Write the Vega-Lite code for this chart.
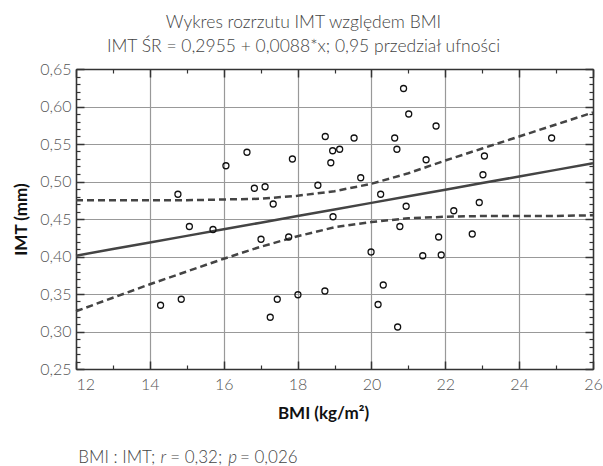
{
  "$schema": "https://vega.github.io/schema/vega-lite/v6.json",
  "width": 517,
  "height": 300,
  "autosize": {"type": "none"},
  "padding": {"left": 76, "top": 69, "right": 10, "bottom": 97},
  "background": "white",
  "title": {
    "text": ["Wykres rozrzutu IMT względem BMI", "IMT ŚR = 0,2955 + 0,0088*x; 0,95 przedział ufności"],
    "font": "Lato", "fontSize": 17.5, "fontWeight": 300, "color": "#444",
    "lineHeight": 24, "offset": 6, "dx": -31
  },
  "config": {
    "view": {"stroke": null},
    "axis": {"labelFont": "Lato", "titleFont": "Lato", "labelColor": "#555", "labelFontSize": 16, "labelFontWeight": 300}
  },
  "datasets": {
    "pts": [
      {"bmi": 14.29, "imt": 0.335}, {"bmi": 14.76, "imt": 0.483}, {"bmi": 14.85, "imt": 0.343},
      {"bmi": 15.07, "imt": 0.440}, {"bmi": 15.71, "imt": 0.436}, {"bmi": 16.06, "imt": 0.521},
      {"bmi": 16.63, "imt": 0.539}, {"bmi": 16.83, "imt": 0.491}, {"bmi": 17.01, "imt": 0.423},
      {"bmi": 17.12, "imt": 0.493}, {"bmi": 17.26, "imt": 0.319}, {"bmi": 17.34, "imt": 0.470},
      {"bmi": 17.45, "imt": 0.343}, {"bmi": 17.76, "imt": 0.426}, {"bmi": 17.86, "imt": 0.530},
      {"bmi": 18.01, "imt": 0.349}, {"bmi": 18.55, "imt": 0.495}, {"bmi": 18.74, "imt": 0.354},
      {"bmi": 18.75, "imt": 0.560}, {"bmi": 18.90, "imt": 0.525}, {"bmi": 18.95, "imt": 0.541},
      {"bmi": 18.96, "imt": 0.453}, {"bmi": 19.14, "imt": 0.543}, {"bmi": 19.53, "imt": 0.558},
      {"bmi": 19.71, "imt": 0.505}, {"bmi": 19.99, "imt": 0.406}, {"bmi": 20.18, "imt": 0.336},
      {"bmi": 20.25, "imt": 0.483}, {"bmi": 20.32, "imt": 0.362}, {"bmi": 20.63, "imt": 0.558},
      {"bmi": 20.69, "imt": 0.543}, {"bmi": 20.71, "imt": 0.306}, {"bmi": 20.77, "imt": 0.440},
      {"bmi": 20.87, "imt": 0.624}, {"bmi": 20.94, "imt": 0.467}, {"bmi": 21.01, "imt": 0.590},
      {"bmi": 21.39, "imt": 0.401}, {"bmi": 21.48, "imt": 0.529}, {"bmi": 21.75, "imt": 0.574},
      {"bmi": 21.82, "imt": 0.426}, {"bmi": 21.89, "imt": 0.402}, {"bmi": 22.23, "imt": 0.461},
      {"bmi": 22.73, "imt": 0.430}, {"bmi": 22.92, "imt": 0.472}, {"bmi": 23.02, "imt": 0.509},
      {"bmi": 23.06, "imt": 0.534}, {"bmi": 24.88, "imt": 0.558}
    ],
    "fit": [
      {"bmi": 12, "lo": 0.327, "fit": 0.4011, "hi": 0.475},
      {"bmi": 13, "lo": 0.345, "fit": 0.4099, "hi": 0.475},
      {"bmi": 14, "lo": 0.363, "fit": 0.4187, "hi": 0.475},
      {"bmi": 15, "lo": 0.380, "fit": 0.4275, "hi": 0.475},
      {"bmi": 16, "lo": 0.397, "fit": 0.4363, "hi": 0.476},
      {"bmi": 17, "lo": 0.413, "fit": 0.4451, "hi": 0.477},
      {"bmi": 18, "lo": 0.427, "fit": 0.4539, "hi": 0.481},
      {"bmi": 19, "lo": 0.439, "fit": 0.4627, "hi": 0.487},
      {"bmi": 20, "lo": 0.446, "fit": 0.4715, "hi": 0.497},
      {"bmi": 21, "lo": 0.451, "fit": 0.4803, "hi": 0.511},
      {"bmi": 22, "lo": 0.453, "fit": 0.4891, "hi": 0.528},
      {"bmi": 23, "lo": 0.454, "fit": 0.4979, "hi": 0.544},
      {"bmi": 24, "lo": 0.454, "fit": 0.5067, "hi": 0.560},
      {"bmi": 25, "lo": 0.454, "fit": 0.5155, "hi": 0.576},
      {"bmi": 26, "lo": 0.455, "fit": 0.5243, "hi": 0.592}
    ],
    "note": [
      {"bmi": 12.062, "imt": 0.125, "t": "BMI : IMT;", "style": "n"},
      {"bmi": 14.29, "imt": 0.125, "t": "r", "style": "i"},
      {"bmi": 14.55, "imt": 0.125, "t": "= 0,32;", "style": "n"},
      {"bmi": 16.12, "imt": 0.125, "t": "p", "style": "i"},
      {"bmi": 16.44, "imt": 0.125, "t": "= 0,026", "style": "n"}
    ]
  },
  "resolve": {"axis": {"x": "independent", "y": "independent"}},
  "layer": [
    {
      "data": {"name": "fit"},
      "mark": {"type": "line", "color": "#444", "strokeWidth": 2.5, "strokeDash": [7, 4]},
      "encoding": {
        "x": {"field": "bmi", "type": "quantitative", "scale": {"domain": [12, 26], "nice": false, "zero": false},
          "axis": {"orient": "top", "values": [12, 14, 16, 18, 20, 22, 24, 26], "labels": false, "grid": false, "title": null,
            "tickSize": -8, "tickColor": "#333", "tickWidth": 1.5, "domainColor": "#333", "domainWidth": 1.5}},
        "y": {"field": "hi", "type": "quantitative", "scale": {"domain": [0.25, 0.65], "nice": false, "zero": false},
          "axis": {"orient": "right", "values": [0.25, 0.3, 0.35, 0.4, 0.45, 0.5, 0.55, 0.6, 0.65], "labels": false, "grid": false, "title": null,
            "tickSize": -8, "tickColor": "#333", "tickWidth": 1.5, "domainColor": "#333", "domainWidth": 1.5}}
      }
    },
    {
      "data": {"name": "fit"},
      "mark": {"type": "line", "color": "#444", "strokeWidth": 2.5, "strokeDash": [7, 4]},
      "encoding": {
        "x": {"field": "bmi", "type": "quantitative", "scale": {"domain": [12, 26], "nice": false, "zero": false},
          "axis": {"orient": "bottom", "values": [13, 15, 17, 19, 21, 23, 25], "labels": false, "grid": false, "title": null, "domain": false,
            "tickSize": -4, "tickColor": "#333", "tickWidth": 1.2}},
        "y": {"field": "lo", "type": "quantitative", "scale": {"domain": [0.25, 0.65], "nice": false, "zero": false},
          "axis": {"orient": "left", "values": [0.26, 0.27, 0.28, 0.29, 0.31, 0.32, 0.33, 0.34, 0.36, 0.37, 0.38, 0.39, 0.41, 0.42, 0.43, 0.44, 0.46, 0.47, 0.48, 0.49, 0.51, 0.52, 0.53, 0.54, 0.56, 0.57, 0.58, 0.59, 0.61, 0.62, 0.63, 0.64],
            "labels": false, "grid": false, "title": null, "domain": false, "tickSize": -4, "tickColor": "#333", "tickWidth": 1.2}}
      }
    },
    {
      "data": {"name": "fit"},
      "mark": {"type": "line", "color": "#444", "strokeWidth": 2.5},
      "encoding": {
        "x": {"field": "bmi", "type": "quantitative", "scale": {"domain": [12, 26], "nice": false, "zero": false},
          "axis": {"orient": "top", "values": [13, 15, 17, 19, 21, 23, 25], "labels": false, "grid": false, "title": null, "domain": false,
            "tickSize": -4, "tickColor": "#333", "tickWidth": 1.2}},
        "y": {"field": "fit", "type": "quantitative", "scale": {"domain": [0.25, 0.65], "nice": false, "zero": false},
          "axis": {"orient": "right", "values": [0.26, 0.27, 0.28, 0.29, 0.31, 0.32, 0.33, 0.34, 0.36, 0.37, 0.38, 0.39, 0.41, 0.42, 0.43, 0.44, 0.46, 0.47, 0.48, 0.49, 0.51, 0.52, 0.53, 0.54, 0.56, 0.57, 0.58, 0.59, 0.61, 0.62, 0.63, 0.64],
            "labels": false, "grid": false, "title": null, "domain": false, "tickSize": -4, "tickColor": "#333", "tickWidth": 1.2}}
      }
    },
    {
      "data": {"name": "pts"},
      "mark": {"type": "point", "shape": "circle", "filled": false, "color": "#111", "size": 36, "strokeWidth": 1.3, "opacity": 1},
      "encoding": {
        "x": {"field": "bmi", "type": "quantitative", "scale": {"domain": [12, 26], "nice": false, "zero": false},
          "axis": {"orient": "bottom", "values": [12, 14, 16, 18, 20, 22, 24, 26], "grid": true, "gridColor": "#999", "gridWidth": 1.2,
            "tickSize": -8, "tickColor": "#333", "tickWidth": 1.5, "domainColor": "#333", "domainWidth": 1.5,
            "labelPadding": 15,
            "labelAlign": {"condition": {"test": "datum.value == 12", "value": "left"}, "value": "center"},
            "title": "BMI (kg/m²)", "titleFontSize": 17, "titleFontWeight": "bold", "titleColor": "#111", "titlePadding": 13, "titleX": 247}},
        "y": {"field": "imt", "type": "quantitative", "scale": {"domain": [0.25, 0.65], "nice": false, "zero": false},
          "axis": {"orient": "left", "values": [0.25, 0.3, 0.35, 0.4, 0.45, 0.5, 0.55, 0.6, 0.65], "grid": true, "gridColor": "#999", "gridWidth": 1.2,
            "tickSize": -8, "tickColor": "#333", "tickWidth": 1.5, "domainColor": "#333", "domainWidth": 1.5,
            "labelPadding": 13,
            "labelExpr": "replace(format(datum.value, '.2f'), '.', ',')",
            "title": "IMT (mm)", "titleFontSize": 17, "titleFontWeight": "bold", "titleColor": "#111", "titlePadding": 9}}
      }
    },
    {
      "data": {"name": "note"},
      "transform": [{"filter": "datum.style == 'n'"}],
      "mark": {"type": "text", "align": "left", "baseline": "alphabetic", "font": "Lato", "fontSize": 17, "fontWeight": 300, "color": "#444"},
      "encoding": {
        "x": {"field": "bmi", "type": "quantitative", "axis": null},
        "y": {"field": "imt", "type": "quantitative", "axis": null},
        "text": {"field": "t"}
      }
    },
    {
      "data": {"name": "note"},
      "transform": [{"filter": "datum.style == 'i'"}],
      "mark": {"type": "text", "align": "left", "baseline": "alphabetic", "font": "Lato", "fontSize": 17, "fontWeight": 300, "fontStyle": "italic", "color": "#444"},
      "encoding": {
        "x": {"field": "bmi", "type": "quantitative", "axis": null},
        "y": {"field": "imt", "type": "quantitative", "axis": null},
        "text": {"field": "t"}
      }
    }
  ]
}
